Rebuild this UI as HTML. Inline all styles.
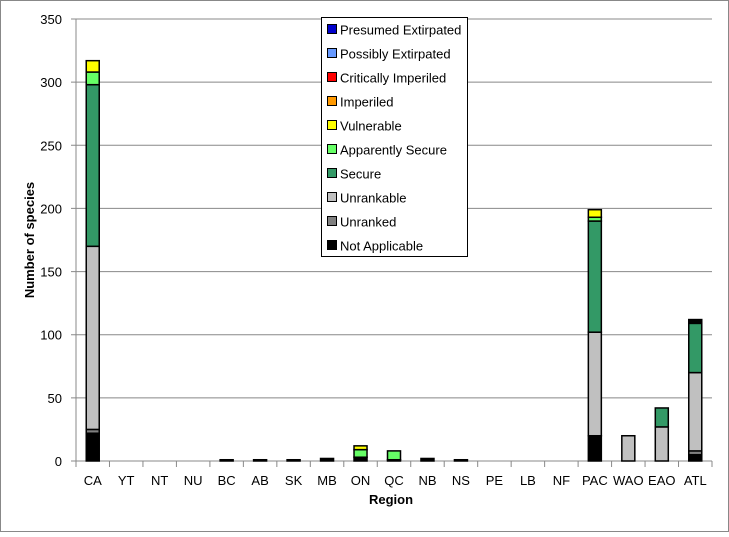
<!DOCTYPE html>
<html><head><meta charset="utf-8"><style>
body{margin:0;background:#fff;font-family:"Liberation Sans",sans-serif;}
svg text{font-family:"Liberation Sans",sans-serif;}
</style></head><body>
<svg id="c" width="729" height="532" xmlns="http://www.w3.org/2000/svg">
<rect x="0.5" y="0.5" width="728" height="531" fill="#fff" stroke="#888"/>
</svg>
<script>
const categories=["CA","YT","NT","NU","BC","AB","SK","MB","ON","QC","NB","NS","PE","LB","NF","PAC","WAO","EAO","ATL"];
const notApplicable=[22,0,0,0,1,1,1,2,3,1,2,1,0,0,0,20,0,0,5];
const unranked=[3,0,0,0,0,0,0,0,0,0,0,0,0,0,0,0,0,0,3];
const unrankable=[145,0,0,0,0,0,0,0,0,0,0,0,0,0,0,82,20,27,62];
const secure=[128,0,0,0,0,0,0,0,0,0,0,0,0,0,0,88,0,15,39];
const apparentlySecure=[10,0,0,0,0,0,0,0,6,7,0,0,0,0,0,3,0,0,0];
const vulnerable=[9,0,0,0,0,0,0,0,3,0,0,0,0,0,0,6,0,0,0];
const topBlack=[0,0,0,0,0,0,0,0,0,0,0,0,0,0,0,0,0,0,3];
const yTicks=[0,50,100,150,200,250,300,350];
const legendNames=["Presumed Extirpated","Possibly Extirpated","Critically Imperiled","Imperiled","Vulnerable","Apparently Secure","Secure","Unrankable","Unranked","Not Applicable"];
const legendColors=["#0000cc","#6699ff","#ff0000","#ff9900","#ffff00","#66ff66","#339966","#c0c0c0","#808080","#000000"];

const svg=document.getElementById('c');
const NS='http://www.w3.org/2000/svg';
const X0=76,X1=712,Y0=461,Y1=19,MAX=350;
const y=v=>Y0-(v/MAX)*(Y0-Y1);
const bw=(X1-X0)/categories.length;
const xc=i=>X0+bw*(i+0.5);
function mk(t,a){const e=document.createElementNS(NS,t);for(const k in a)e.setAttribute(k,a[k]);svg.appendChild(e);return e;}
yTicks.forEach(t=>{
  const l=mk('line',{x1:X0-5,x2:X1,y1:y(t),y2:y(t),stroke:'#888','stroke-width':1});
  
  
  const tx=mk('text',{x:62,y:y(t)+5,'text-anchor':'end','font-size':13,fill:'#000'});
  tx.textContent=t;
  
  
});
const ax=mk('line',{x1:X0,x2:X0,y1:Y1,y2:Y0,stroke:'#888'});


categories.forEach((c,i)=>{
  const tk=mk('line',{x1:X0+bw*i,x2:X0+bw*i,y1:Y0,y2:Y0+6,stroke:'#888'});
  
  
  const tx=mk('text',{x:xc(i),y:485,'text-anchor':'middle','font-size':13});
  tx.textContent=c;
  
  
});
const tk=mk('line',{x1:X1,x2:X1,y1:Y0,y2:Y0+6,stroke:'#888'});
const series=[[notApplicable,'#000'],[unranked,'#808080'],[unrankable,'#c0c0c0'],[secure,'#339966'],[apparentlySecure,'#66ff66'],[vulnerable,'#ffff00'],[topBlack,'#000']];
categories.forEach((c,i)=>{
  let acc=0;
  series.forEach(([arr,col],si)=>{
    const v=arr[i]; if(!v) return;
    const r=mk('rect',{x:xc(i)-6.5,y:y(acc+v),width:13,height:y(acc)-y(acc+v),fill:col,stroke:'#000','stroke-width':1.5});
    
    
    acc+=v;
  });
});
const xt=mk('text',{x:391,y:504,'text-anchor':'middle','font-size':13,'font-weight':'bold'});
xt.textContent='Region';


const yt=mk('text',{x:34,y:240,'text-anchor':'middle','font-size':13,'font-weight':'bold',transform:'rotate(-90 34 240)'});
yt.textContent='Number of species';


const lb=mk('rect',{x:321.5,y:17.5,width:146,height:239,fill:'#fff',stroke:'#000'});


legendNames.forEach((n,i)=>{
  const yy=30+i*24;
  const s=mk('rect',{x:327.5,y:yy-5.5,width:9,height:9,fill:legendColors[i],stroke:'#000'});
  
  
  const t=mk('text',{x:340,y:yy+4.5,'font-size':13});
  t.textContent=n;
  
  
});
</script>
</body></html>
